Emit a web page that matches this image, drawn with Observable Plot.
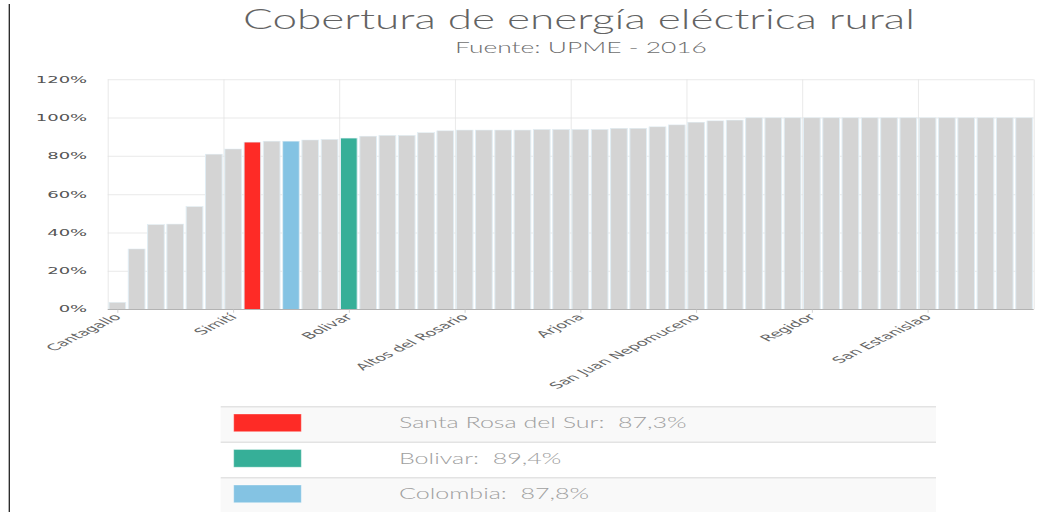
<!DOCTYPE html>
<html><head><meta charset="utf-8">
<script src="https://cdn.jsdelivr.net/npm/d3@7"></script>
<script src="https://cdn.jsdelivr.net/npm/@observablehq/plot@0.6"></script>
<style>
html,body{margin:0;padding:0;background:#fff;width:1042px;height:512px;overflow:hidden;}
body{position:relative;}
#chart{position:absolute;left:0;top:62px;width:1042px;transform:scaleY(0.5);transform-origin:0 0;}
#overlay{position:absolute;left:0;top:0;}
</style></head><body>
<div id="chart"></div>
<svg id="overlay" width="1042" height="512" xmlns="http://www.w3.org/2000/svg"></svg>
<script>
// ---- data ----
const coverage = [3.6, 31.5, 44.2, 44.5, 53.6, 81.0, 83.7, 87.3, 87.8, 87.8, 88.4, 88.7, 89.4,
  90.4, 90.8, 90.8, 92.2, 93.2, 93.6, 93.6, 93.6, 93.6, 93.9, 93.9, 93.9, 93.9, 94.5, 94.5,
  95.3, 96.3, 97.7, 98.4, 98.8,
  100, 100, 100, 100, 100, 100, 100, 100, 100, 100, 100, 100, 100, 100, 100];
const tickLabels = ["Cantagallo", "Simití", "Bolivar", "Altos del Rosario", "Arjona",
  "San Juan Nepomuceno", "Regidor", "San Estanislao"];
const labelStep = 6;
const highlightNames = ["Santa Rosa del Sur", "Bolivar", "Colombia"];
const highlightValues = [87.3, 89.4, 87.8];
const highlightIndex = [7, 12, 9];
const highlightColors = ["#fe2b26", "#36af98", "#84c3e3"];
const yTicks = [0, 20, 40, 60, 80, 100, 120];
const titleText = "Cobertura de energía eléctrica rural";
const subtitleText = "Fuente: UPME - 2016";

// ---- chart ----
const baseColor = "#d4d4d4";
const rows = coverage.map((v, i) => {
  const h = highlightIndex.indexOf(i);
  return {i, v, fill: h >= 0 ? highlightColors[h] : baseColor};
});
const tickPos = tickLabels.map((_, k) => k * labelStep + 0.5);
const gridX = d3.range(0, coverage.length + 1, labelStep);

const plot = Plot.plot({
  width: 1042, height: 680,
  marginLeft: 107.7, marginRight: 8.3, marginTop: 35, marginBottom: 185.4,
  style: {fontFamily: "DejaVu Sans, Verdana, sans-serif", background: "transparent", overflow: "visible"},
  x: {domain: [0, coverage.length], axis: null, label: null},
  y: {domain: [0, 120], axis: null, label: null},
  color: {type: "identity"},
  marks: [
    Plot.ruleY(yTicks.slice(1), {stroke: "#e9e9e9", strokeWidth: 2}),
    Plot.ruleX(gridX, {stroke: "#e2e2e2", strokeWidth: 1}),
    Plot.rectY(rows, {x1: "i", x2: d => d.i + 1, y: "v", fill: "fill",
      stroke: "#e0edf4", strokeWidth: 1, insetLeft: 1.3, insetRight: 1.3}),
    Plot.ruleY([0], {stroke: "#b3b3b3", strokeWidth: 2}),
    Plot.axisY(yTicks, {label: null, tickSize: 0, tickPadding: 21, tickFormat: d => d + "%",
      fontSize: 18, fill: "#555", stroke: "none"}),
    Plot.axisX(tickPos, {label: null, tickRotate: -45, tickSize: 7, tickPadding: 5,
      tickFormat: d => tickLabels[Math.round((d - 0.5) / labelStep)],
      fontSize: 18, fill: "#666", stroke: "#c4c4c4"})
  ]
});
document.getElementById("chart").appendChild(plot);

// ---- title, subtitle, legend ----
const ov = d3.select("#overlay");
const font = "Lato, 'DejaVu Sans', sans-serif";

ov.append("line").attr("x1", 9.3).attr("x2", 9.3).attr("y1", 4).attr("y2", 512)
  .attr("stroke", "#222").attr("stroke-width", 1.3);

function fit(sel, cx, target) {
  const w = sel.node().getComputedTextLength();
  const k = target / w;
  sel.attr("transform", `translate(${cx},0) scale(${k},1) translate(${-cx},0)`);
  return k;
}

const t = ov.append("text").attr("x", 579).attr("y", 29.3).attr("text-anchor", "middle")
  .attr("font-family", font).attr("font-weight", 300).attr("font-size", 27)
  .attr("fill", "#636363").text(titleText);
fit(t, 579, 672);

const s = ov.append("text").attr("x", 581).attr("y", 53.3).attr("text-anchor", "middle")
  .attr("font-family", font).attr("font-weight", 300).attr("font-size", 15)
  .attr("fill", "#6e6e6e").text(subtitleText);
fit(s, 581, 252);

const legX = 220.7, legW = 715.3, rowH = 35.5, legTop = 406.7;
const fmt = v => v.toFixed(1).replace(".", ",") + "%";
const g = ov.append("g");
let k = null;
highlightNames.forEach((name, j) => {
  const top = legTop + j * rowH;
  g.append("rect").attr("x", legX).attr("y", top).attr("width", legW).attr("height", rowH + 1)
    .attr("fill", j % 2 === 0 ? "#f9f9f9" : "#ffffff");
  g.append("line").attr("x1", legX).attr("x2", legX + legW).attr("y1", top).attr("y2", top)
    .attr("stroke", "#e3e3e3").attr("stroke-width", 1.6);
  g.append("rect").attr("x", 233.7).attr("y", top + 7.3).attr("width", 67.6).attr("height", 17.7)
    .attr("fill", highlightColors[j]).attr("stroke", "#ffffff").attr("stroke-opacity", 0.35).attr("stroke-width", 1);
  const tx = g.append("text").attr("x", 399).attr("y", top + 21.8)
    .attr("font-family", font).attr("font-weight", 300).attr("font-size", 16)
    .attr("fill", "#a0a0a0").attr("xml:space", "preserve").style("white-space", "pre")
    .text(name + ":  " + fmt(highlightValues[j]));
  if (k === null) {
    k = fit(tx, 399, 288);
  } else {
    tx.attr("transform", `translate(399,0) scale(${k},1) translate(-399,0)`);
  }
});
</script>
</body></html>
